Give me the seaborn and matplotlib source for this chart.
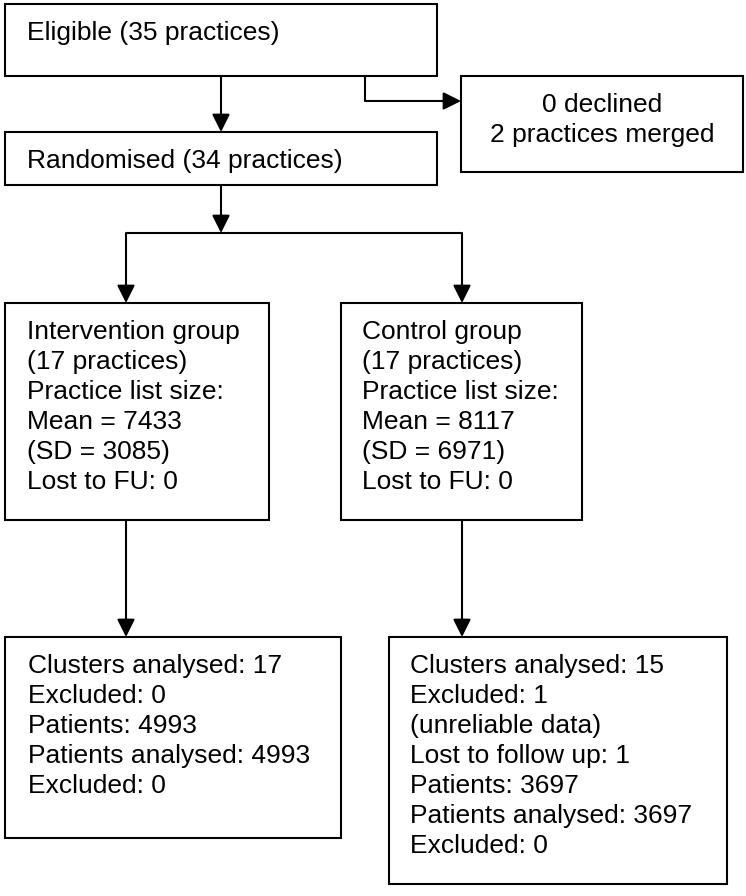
import matplotlib
matplotlib.use("Agg")
import matplotlib.pyplot as plt
import seaborn as sns
from matplotlib.patches import Rectangle

sns.set_theme(style="white")
plt.rcParams["font.family"] = ["Liberation Sans", "DejaVu Sans"]

# ---- content ----
eligible_text = ["Eligible (35 practices)"]
declined_text = ["0 declined", "2 practices merged"]
randomised_text = ["Randomised (34 practices)"]
intervention_text = ["Intervention group", "(17 practices)", "Practice list size:",
                     "Mean = 7433", "(SD = 3085)", "Lost to FU: 0"]
control_text = ["Control group", "(17 practices)", "Practice list size:",
                "Mean = 8117", "(SD = 6971)", "Lost to FU: 0"]
analysed_int_text = ["Clusters analysed: 17", "Excluded: 0", "Patients: 4993",
                     "Patients analysed: 4993", "Excluded: 0"]
analysed_ctl_text = ["Clusters analysed: 15", "Excluded: 1", "(unreliable data)",
                     "Lost to follow up: 1", "Patients: 3697",
                     "Patients analysed: 3697", "Excluded: 0"]

W, H = 746, 896
fig = plt.figure(figsize=(W / 100, H / 100), dpi=100)
ax = fig.add_axes([0, 0, 1, 1])
ax.set_xlim(0, W)
ax.set_ylim(H, 0)
ax.set_axis_off()

FS = 19
LS = 30
LW = 1.5


def box(x0, y0, x1, y1, lines, tx=None, align="left"):
    ax.add_patch(Rectangle((x0, y0), x1 - x0, y1 - y0, fill=False,
                           edgecolor="black", linewidth=LW, joinstyle="miter"))
    base = y0 + 36
    for i, t in enumerate(lines):
        if align == "left":
            ax.text(tx, base + i * LS, t, fontsize=FS, va="baseline", ha="left",
                    color="black")
        else:
            ax.text((x0 + x1) / 2, base + i * LS, t, fontsize=FS, va="baseline",
                    ha="center", color="black")


def line(xs, ys):
    ax.plot(xs, ys, color="black", linewidth=LW, solid_capstyle="butt")


def arrow(x0, y0, x1, y1):
    ax.annotate("", xy=(x1, y1), xytext=(x0, y0),
                arrowprops=dict(arrowstyle="-|>,head_length=1.0,head_width=0.5",
                                mutation_scale=10.8, color="black", lw=LW,
                                shrinkA=0, shrinkB=0))


# boxes
box(5, 4, 437, 76, eligible_text, tx=27)
box(461, 76, 743, 172, declined_text, align="center")
box(5, 132, 437, 185, randomised_text, tx=27)
box(5, 303, 269, 520, intervention_text, tx=27)
box(341, 303, 582, 520, control_text, tx=362)
box(5, 637, 341, 838, analysed_int_text, tx=28)
box(389, 637, 727, 884, analysed_ctl_text, tx=410)

# connectors
arrow(221, 76, 221, 132)
line([365, 365, 450], [76, 101, 101])
arrow(445, 101, 461, 101)
arrow(221, 185, 221, 233)
line([126, 462], [233, 233])
arrow(126, 233, 126, 303)
arrow(462, 233, 462, 303)
arrow(126, 520, 126, 637)
arrow(462, 520, 462, 637)

fig.savefig("out.png", dpi=100, facecolor="white")
